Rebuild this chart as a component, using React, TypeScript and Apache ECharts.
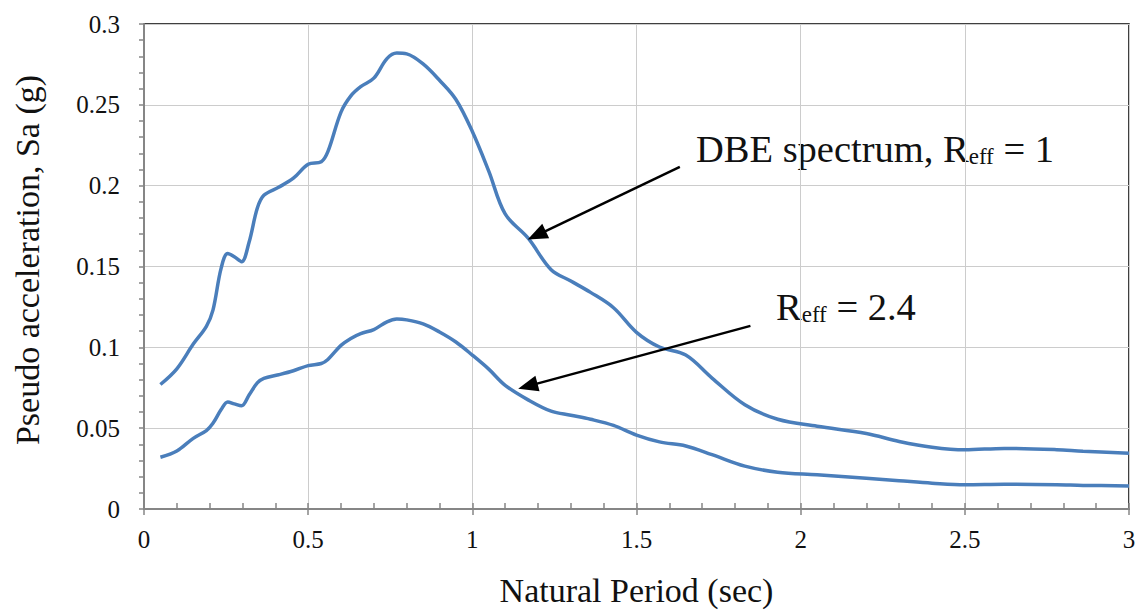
import React, { useEffect, useRef } from "react";
import * as echarts from "echarts";

// Natural period (sec)
const periods = [0.05, 0.1, 0.15, 0.19, 0.21, 0.235, 0.255, 0.275, 0.297, 0.32, 0.345, 0.365, 0.41, 0.455, 0.5, 0.54, 0.56, 0.6, 0.63, 0.66, 0.7, 0.74, 0.77, 0.8, 0.85, 0.9, 0.95, 1.0, 1.05, 1.1, 1.17, 1.24, 1.3, 1.36, 1.43, 1.5, 1.57, 1.65, 1.73, 1.83, 1.93, 2.05, 2.2, 2.3, 2.4, 2.5, 2.62, 2.78, 2.86, 3.0];

// DBE spectrum, Reff = 1
const dbeSa = [0.077, 0.0867, 0.102, 0.113, 0.123, 0.149, 0.158, 0.156, 0.153, 0.165, 0.186, 0.194, 0.199, 0.2046, 0.2132, 0.2148, 0.221, 0.2455, 0.2555, 0.2612, 0.2665, 0.2786, 0.282, 0.2815, 0.2753, 0.2652, 0.2533, 0.2335, 0.209, 0.1825, 0.1675, 0.148, 0.141, 0.134, 0.1245, 0.1093, 0.1002, 0.0952, 0.081, 0.0645, 0.0555, 0.0512, 0.0467, 0.0418, 0.0382, 0.0366, 0.0375, 0.0367, 0.0357, 0.0345];

// Reff = 2.4
const reducedSa = [0.032, 0.0359, 0.0437, 0.0485, 0.053, 0.0615, 0.0662, 0.065, 0.0638, 0.0705, 0.078, 0.0808, 0.083, 0.0855, 0.0887, 0.09, 0.0925, 0.1012, 0.1055, 0.1085, 0.111, 0.1158, 0.1175, 0.117, 0.1145, 0.1095, 0.1033, 0.0952, 0.0865, 0.0765, 0.0675, 0.0605, 0.058, 0.0555, 0.0517, 0.0457, 0.0415, 0.039, 0.0336, 0.0265, 0.0228, 0.0212, 0.019, 0.0175, 0.016, 0.015, 0.0153, 0.015, 0.0146, 0.0143];

// Annotation arrows in data coordinates: [startT, startSa, endT, endSa]
const dbeArrow = [1.632, 0.2116, 1.196, 0.1693];
const reducedArrow = [1.847, 0.1133, 1.169, 0.076];

const FONT = "'Liberation Serif', 'Times New Roman', serif";
const LINE_COLOR = "#4a7ebb";

export default function App() {
  const ref = useRef<HTMLDivElement>(null);

  useEffect(() => {
    if (!ref.current) return;
    const chart = echarts.init(ref.current, undefined, { renderer: "svg" });

    const arrowLine = (a: number[]) => [
      { coord: [a[0], a[1]], symbol: "none" },
      { coord: [a[2], a[3]], symbol: "triangle" },
    ];

    const rich = {
      m: { fontFamily: FONT, fontSize: 38.5, fill: "#111", lineHeight: 38 },
      s: { fontFamily: FONT, fontSize: 23, fill: "#111", verticalAlign: "bottom", lineHeight: 23 },
    };

    chart.setOption({
      animation: false,
      backgroundColor: "#ffffff",
      grid: {
        left: 144,
        right: 11,
        top: 24,
        bottom: 101,
        show: true,
        borderColor: "#000000",
        borderWidth: 1.5,
        backgroundColor: "transparent",
      },
      xAxis: [
        {
          type: "value",
          min: 0,
          max: 3,
          interval: 0.5,
          name: "Natural Period (sec)",
          nameLocation: "middle",
          nameGap: 64,
          nameTextStyle: { fontFamily: FONT, fontSize: 34, color: "#111" },
          axisLine: { show: true, onZero: false, lineStyle: { color: "#868686", width: 2 } },
          axisTick: { show: true, inside: true, length: 6, lineStyle: { color: "#868686", width: 1.5 } },
          minorTick: { show: true, splitNumber: 5, length: 6, lineStyle: { color: "#868686", width: 1.5 } },
          splitLine: { show: true, lineStyle: { color: "#cccccc", width: 1 } },
          axisLabel: { fontFamily: FONT, fontSize: 25, color: "#111", margin: 18 },
        },
        {
          type: "value",
          position: "bottom",
          min: 0,
          max: 3,
          interval: 0.5,
          axisLine: { show: false },
          axisTick: { show: true, length: 6, lineStyle: { color: "#868686", width: 1.5 } },
          splitLine: { show: false },
          axisLabel: { show: false },
        },
      ],
      yAxis: {
        type: "value",
        min: 0,
        max: 0.3,
        interval: 0.05,
        axisLine: { show: true, onZero: false, lineStyle: { color: "#868686", width: 2 } },
        axisTick: { show: true, length: 5, lineStyle: { color: "#868686", width: 1.5 } },
        minorTick: { show: true, splitNumber: 5, length: 5, lineStyle: { color: "#868686", width: 1.5 } },
        splitLine: { show: true, lineStyle: { color: "#cccccc", width: 1 } },
        axisLabel: { fontFamily: FONT, fontSize: 25, color: "#111", margin: 24 },
      },
      series: [
        {
          name: "DBE spectrum, Reff = 1",
          type: "line",
          data: periods.map((t, i) => [t, dbeSa[i]]),
          smooth: 0.35,
          showSymbol: false,
          lineStyle: { color: LINE_COLOR, width: 3.5 },
          markLine: {
            silent: true,
            symbolSize: [16, 20],
            label: { show: false },
            lineStyle: { color: "#000000", width: 2.5, type: "solid" },
            itemStyle: { color: "#000000" },
            data: [arrowLine(dbeArrow), arrowLine(reducedArrow)],
          },
        },
        {
          name: "Reff = 2.4",
          type: "line",
          data: periods.map((t, i) => [t, reducedSa[i]]),
          smooth: 0.35,
          showSymbol: false,
          lineStyle: { color: LINE_COLOR, width: 3.5 },
        },
      ],
      graphic: [
        {
          type: "text",
          x: 27,
          y: 260,
          rotation: Math.PI / 2,
          style: {
            text: "Pseudo acceleration, Sa (g)",
            fontFamily: FONT,
            fontSize: 34,
            fill: "#111",
            align: "center",
            verticalAlign: "middle",
          },
        },
        {
          type: "text",
          x: 696,
          y: 149,
          style: {
            text: "{m|DBE spectrum, R}{s|eff}{m| = 1}",
            verticalAlign: "middle",
            align: "left",
            rich,
          },
        },
        {
          type: "text",
          x: 776,
          y: 307,
          style: {
            text: "{m|R}{s|eff}{m| = 2.4}",
            verticalAlign: "middle",
            align: "left",
            rich,
          },
        },
      ],
    });

    return () => chart.dispose();
  }, []);

  return (
    <div
      ref={ref}
      style={{ position: "absolute", left: 0, top: 0, width: 1140, height: 612, background: "#fff" }}
    />
  );
}
